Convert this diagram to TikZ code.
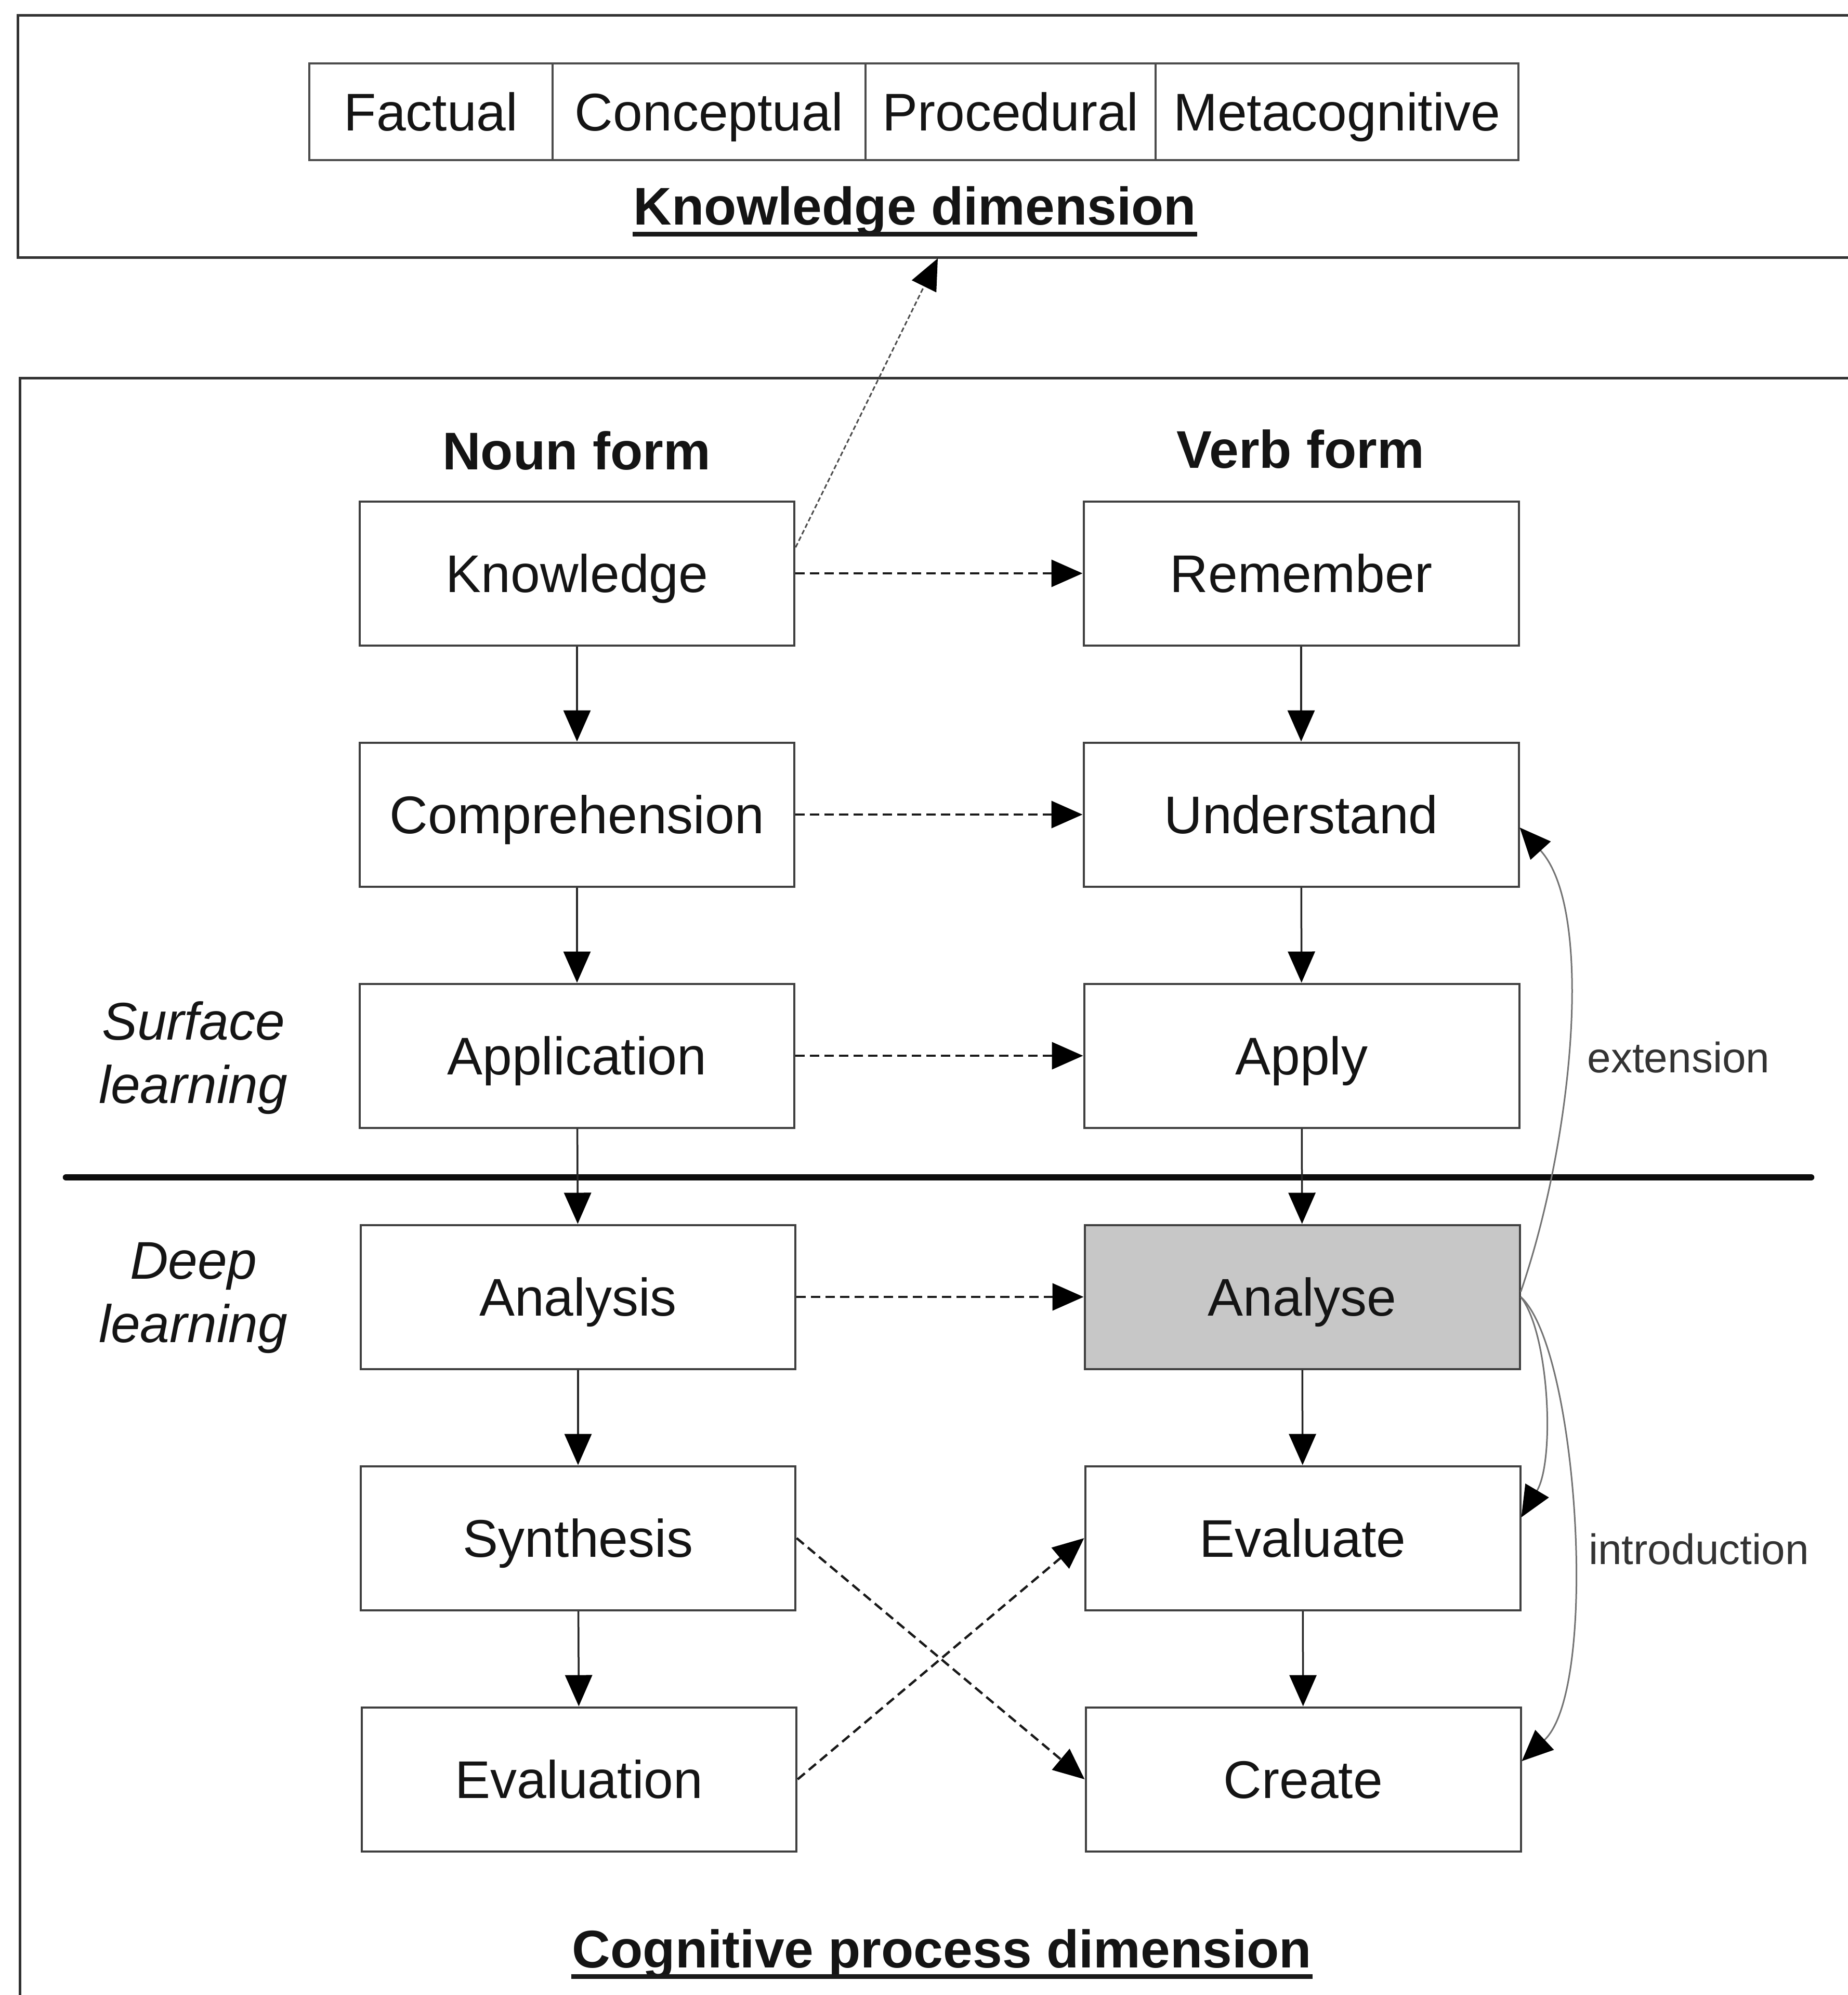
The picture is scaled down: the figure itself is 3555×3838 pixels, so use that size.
\documentclass[tikz,border=0pt]{standalone}
\usepackage{fontspec}
\setmainfont{Liberation Sans}
\usetikzlibrary{arrows.meta}
\begin{document}
\begin{tikzpicture}[x=0.1pt,y=-0.1pt,
  every node/.style={font=\fontsize{10.2}{12.2}\selectfont, text=black!92},
  box/.style={draw=black!75, line width=0.4pt, minimum width=83.7pt, minimum height=27.7pt,
    inner sep=0pt, text height=7.3pt, text depth=0pt},
  cell/.style={draw=black!70, line width=0.45pt, minimum height=18.6pt, inner sep=0pt,
    outer sep=0pt, text height=7.3pt, text depth=0pt, anchor=west},
  heading/.style={font=\bfseries\fontsize{10.2}{12.2}\selectfont, inner sep=0pt},
  rowlab/.style={font=\itshape\fontsize{10.2}{12.2}\selectfont, align=center, inner sep=0pt},
  note/.style={font=\fontsize{8.2}{10}\selectfont, text=black!80, inner sep=0pt},
  tip/.style={-{Triangle[length=6pt,width=5.2pt,color=black]}},
  flow/.style={tip, line width=0.35pt, draw=black!85},
  maps/.style={tip, line width=0.45pt, dash pattern=on 1.8pt off 1pt, draw=black!90},
  link/.style={tip, line width=0.3pt, dash pattern=on 0.9pt off 0.5pt, draw=black!70},
  bendlink/.style={tip, line width=0.3pt, draw=black!55},
  frame/.style={line width=0.5pt, draw=black!80}
]
\useasboundingbox (0,0) rectangle (3555,3838);

% ---- knowledge dimension panel ----
\draw[frame] (3560,29) -- (34,29) -- (34,495) -- (3560,495);
\node[cell, minimum width=46.8pt] (factual) at (595,215) {Factual};
\node[cell, minimum width=60.2pt] (conceptual) at (factual.east) {Conceptual};
\node[cell, minimum width=55.8pt] (procedural) at (conceptual.east) {Procedural};
\node[cell, minimum width=69.8pt] (metacog) at (procedural.east) {Metacognitive};
\node[heading, anchor=base] (kdim) at (1760,432) {Knowledge dimension};
\draw[line width=0.9pt, black!90] ([yshift=-1.8pt]kdim.base west) -- ([yshift=-1.8pt]kdim.base east);
\coordinate (kfoot) at (1804,497);

% ---- cognitive process panel ----
\draw[frame] (3560,727) -- (38,727) -- (38,3845);
\node[heading] (noun) at (1109,867) {Noun form};
\node[heading] (verb) at (2502,864) {Verb form};

% noun forms
\node[box] (knowledge) at (1110,1103) {Knowledge};
\node[box] (comprehension) at (1110,1567) {Comprehension};
\node[box] (application) at (1110,2031) {Application};
\node[box] (analysis) at (1112,2495) {Analysis};
\node[box] (synthesis) at (1112,2959) {Synthesis};
\node[box] (evaluation) at (1114,3423) {Evaluation};

% verb forms
\node[box] (remember) at (2503,1103) {Remember};
\node[box] (understand) at (2503,1567) {Understand};
\node[box] (apply) at (2504,2031) {Apply};
\node[box, fill=black!22] (analyse) at (2505,2495) {Analyse};
\node[box] (evaluate) at (2506,2959) {Evaluate};
\node[box] (create) at (2507,3423) {Create};

% surface / deep divide
\draw[line width=1.25pt, line cap=round, black!95] (127,2265) -- (3484,2265);
\node[rowlab] (surface) at (372,2035) {Surface\\learning};
\node[rowlab] (deep) at (372,2497) {Deep\\learning};

% vertical sequences
\draw[flow] (knowledge) -- (comprehension);
\draw[flow] (comprehension) -- (application);
\draw[flow] (application) -- (analysis);
\draw[flow] (analysis) -- (synthesis);
\draw[flow] (synthesis) -- (evaluation);
\draw[flow] (remember) -- (understand);
\draw[flow] (understand) -- (apply);
\draw[flow] (apply) -- (analyse);
\draw[flow] (analyse) -- (evaluate);
\draw[flow] (evaluate) -- (create);

% noun -> verb mappings
\draw[maps] (knowledge) -- (remember);
\draw[maps] (comprehension) -- (understand);
\draw[maps] (application) -- (apply);
\draw[maps] (analysis) -- (analyse);
\draw[maps] (synthesis.east) -- (create.west);
\draw[maps] (evaluation.east) -- (evaluate.west);

% link to the knowledge dimension
\draw[link] ([yshift=5pt]knowledge.east) -- (kfoot);

% extension and introduction
\draw[bendlink] ([yshift=1pt]analyse.east) .. controls +(100,-290) and +(145,160) .. ([yshift=-2.5pt]understand.east);
\draw[bendlink] (analyse.east) .. controls +(55,70) and +(65,-110) .. ([yshift=4pt]evaluate.east);
\draw[bendlink] (analyse.east) .. controls +(110,100) and +(150,-140) .. ([yshift=3.5pt]create.east);
\node[note] (ext) at (3229,2034) {extension};
\node[note] (intro) at (3268,2980) {introduction};

% panel title
\node[heading, anchor=base] (cdim) at (1812,3785) {Cognitive process dimension};
\draw[line width=0.9pt, black!90] ([yshift=-1.7pt]cdim.base west) -- ([yshift=-1.7pt]cdim.base east);
\end{tikzpicture}
\end{document}
